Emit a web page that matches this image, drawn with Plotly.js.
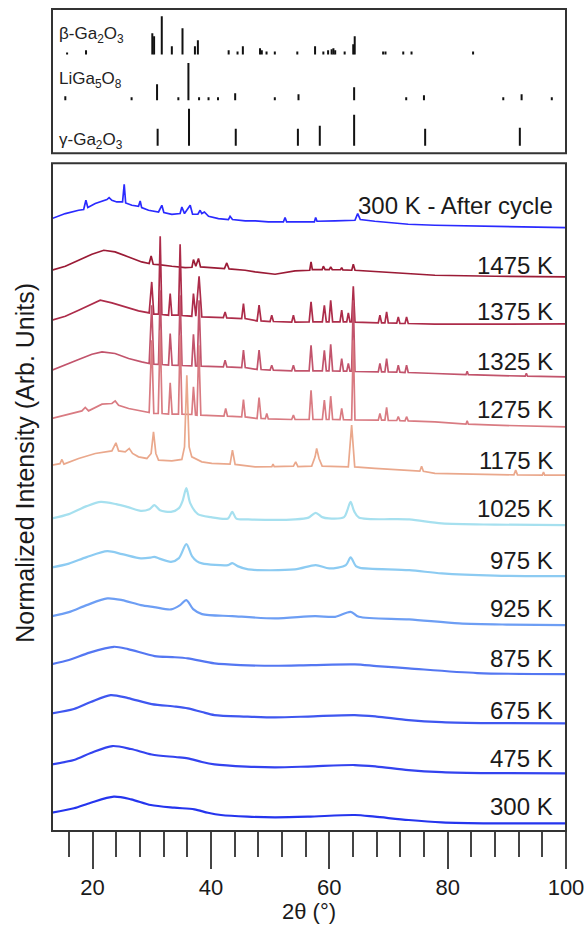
<!DOCTYPE html>
<html>
<head>
<meta charset="utf-8">
<script src="https://cdn.plot.ly/plotly-3.0.1.min.js"></script>
<style>html,body{margin:0;padding:0;background:#fff;}#chart{width:588px;height:938px;}</style>
</head>
<body>
<div id="chart"></div>
<script>
// ---------- DATA ----------
// Temperatures / pattern labels (top to bottom)
const labels = ["300 K - After cycle","1475 K","1375 K","1325 K","1275 K","1175 K","1025 K","975 K","925 K","875 K","675 K","475 K","300 K"];

// XRD patterns: [2theta, stacked intensity (arb.)]
const xrd_after = [[13.15,612.7],[15.4,617.7],[17.65,621],[18.5,621.7],[18.88,631],[19.2,623.7],[20.46,627.7],[21.6,630.3],[22.43,631.7],[22.8,633.7],[23.27,631],[24.1,629.3],[25.07,629.3],[25.35,647],[25.6,628.3],[26.65,626],[27.77,625],[28.05,630.3],[28.3,623.7],[29.46,621],[31.15,619.3],[31.71,626],[32.05,618.7],[33.4,617],[34.8,617.7],[35.09,624.3],[35.54,617.7],[36.5,626],[36.9,617],[37.8,617],[38.18,621],[38.46,617.7],[38.9,619.3],[39.6,615],[41.27,612.7],[42.96,611.7],[43.24,615],[43.64,611.7],[45.8,610.3],[47.5,610.3],[49.7,609.3],[52.25,609.3],[52.53,613.7],[52.8,609.3],[55.34,609.3],[57.48,609.3],[57.7,613.7],[57.93,610],[60.97,610.3],[62.65,611],[64.34,611],[64.8,617.7],[65.24,611.7],[67.7,610],[69.97,608.7],[73.34,607],[77.85,606],[88,605],[100,603.7]];
const xrd_1475 = [[13.15,561],[15.4,565],[17.65,571],[19.9,577],[21.9,581],[23.8,579.3],[26.1,574.3],[28.3,569.3],[29.57,567.7],[29.9,575.3],[30.25,567],[31.15,566.7],[33.4,565],[35.65,563.7],[36.8,564],[37.05,571.7],[37.45,565],[37.9,572.7],[38.24,564.3],[40.15,563.7],[42.29,562.7],[42.68,568.3],[43.07,562.3],[45.78,561],[47.47,559.3],[50.84,557],[54.22,560.3],[56.7,561],[56.92,569.3],[57.14,561.7],[58.8,561.7],[59.0,565],[59.3,561.7],[60.0,561.7],[60.24,564.3],[60.5,561.7],[61.9,561.5],[62.1,563.7],[62.3,561.3],[63.8,561],[64.06,567],[64.35,561],[69.4,559.3],[73.34,557.7],[77.85,556],[88,555],[100,554.3]];
const xrd_1375 = [[13.15,511],[15.4,515],[17.65,521],[19.9,527],[21.3,531],[23.27,528.3],[25.52,524.3],[27.77,520.3],[29.57,518.3],[30.0,549.3],[30.35,517],[31.15,517],[31.43,595],[31.71,516.7],[32.84,516],[33.12,537.7],[33.4,516],[34.52,516],[34.8,587],[35.09,515.7],[36.77,515],[37.05,537.7],[37.45,515],[38.0,555],[38.46,514.3],[42.1,513.7],[42.4,519.3],[42.68,513.3],[45.2,512.7],[45.5,527.7],[45.78,512.7],[47.8,510.3],[48.14,526],[48.48,510.3],[50.0,509.7],[50.28,516],[50.56,509.7],[53.65,509],[53.94,516],[54.22,509],[56.6,509.3],[56.92,529.3],[57.25,509.3],[58.83,509.3],[59.17,526],[59.5,509.3],[59.95,509.3],[60.24,531],[60.57,509.3],[61.81,509.3],[62.1,521],[62.37,509.3],[62.95,509.3],[63.22,518.3],[63.5,509.3],[63.78,509.3],[64.06,545],[64.34,509],[68.28,508.3],[68.56,516],[68.84,508.3],[69.4,508.3],[69.69,519.3],[69.97,508.3],[71.4,508],[71.66,514.3],[71.94,507.7],[72.8,507.7],[73.06,514.3],[73.34,507.7],[77.85,507],[88,507],[100,507.3]];
const xrd_1325 = [[13.15,461],[15.4,466],[17.65,471.7],[19.9,477],[21.6,479.3],[23.8,477.7],[26.1,472.7],[28.3,469.3],[29.57,467.7],[30.0,526],[30.35,467],[31.15,466.8],[31.43,541],[31.75,466.7],[32.84,466.2],[33.12,497.7],[33.45,466],[34.52,465.8],[34.8,536],[35.12,465.7],[36.77,465.3],[37.05,497],[37.4,465.3],[37.7,465.2],[38.0,531],[38.35,465],[42.1,464.3],[42.4,471],[42.7,464.3],[45.2,463.7],[45.5,481],[45.8,463.7],[47.8,461.7],[48.14,481],[48.48,461.7],[50.0,461],[50.28,466],[50.56,461],[53.65,460.3],[53.94,466],[54.22,460.3],[56.6,460.3],[56.92,486],[57.25,460.3],[58.83,460.3],[59.17,481],[59.5,460.3],[59.95,460.3],[60.24,487],[60.57,460.3],[61.81,460],[62.1,472.7],[62.4,460],[62.95,460],[63.22,467.7],[63.5,460],[63.78,460],[64.06,531],[64.34,459.7],[68.28,459.3],[68.56,467.7],[68.84,459.3],[69.4,459.3],[69.69,472.7],[69.97,459.3],[71.4,459],[71.66,466],[71.94,459],[72.8,458.7],[73.06,466],[73.34,458.7],[77.85,457.7],[83.1,456.5],[83.3,460],[83.5,456.5],[93.1,455],[93.3,458],[93.5,455],[100,454.3]];
const xrd_1275 = [[13.15,412.7],[15.4,416],[18.2,420.3],[18.77,423.7],[19.33,420.3],[21.6,427],[23.27,427.7],[23.83,430.3],[24.4,426],[26.1,422.7],[28.3,420.3],[29.57,418.7],[30.0,491],[30.35,417.8],[31.1,417.7],[31.43,501],[31.75,417.7],[32.84,417.2],[33.12,448.3],[33.45,417],[34.52,417],[34.8,496],[35.12,417],[36.77,416.7],[37.05,444.3],[37.4,416.2],[37.65,416],[37.95,486],[38.3,416],[42.2,415],[42.5,422.7],[42.8,415],[45.2,414.3],[45.5,431.7],[45.8,414.3],[47.8,412.7],[48.14,433.7],[48.48,412.7],[49.2,412.5],[49.44,417.7],[49.7,412.3],[53.65,411.7],[53.94,416],[54.22,411.7],[56.6,411.7],[56.92,441],[57.25,411.7],[58.83,411.7],[59.17,431],[59.5,411.7],[59.95,411.7],[60.24,435],[60.57,411.7],[61.81,411.5],[62.1,422.7],[62.4,411.5],[63.78,411.3],[64.06,491],[64.34,411.2],[68.28,411],[68.56,417.7],[68.84,411],[69.4,411],[69.69,423.7],[69.97,410.8],[71.4,410.7],[71.66,414.5],[71.94,410.5],[72.8,410.3],[73.06,414.5],[73.34,410.3],[77.85,409.3],[83.1,407],[83.3,410.5],[83.5,407],[88,406],[100,404.3]];
const xrd_1175 = [[13.15,366],[14.5,367.5],[14.83,371.7],[15.17,367],[17.65,372.7],[20.46,377.7],[23.27,380.3],[23.95,388.3],[24.4,380.3],[25.52,379.3],[26.2,382.7],[26.76,377.7],[27.77,374.3],[29.18,372.7],[29.9,377.7],[30.3,399.3],[30.7,377.7],[31.15,371],[33.4,370.3],[35.09,371.7],[35.54,384.3],[35.93,456],[36.32,384.3],[36.77,374.3],[38.46,369.3],[40.15,367.7],[43.24,367],[43.64,381],[44.09,366.7],[45.78,365.3],[47.47,364.3],[50.3,364.5],[50.5,367],[50.7,364.5],[53.94,365],[54.33,369.3],[54.7,364.5],[57.03,365],[57.6,374.3],[57.87,382.7],[58.27,372.7],[58.8,365],[61.53,364.5],[63.22,364.3],[63.78,406],[64.3,364.3],[67.72,362.7],[72.22,361],[75.3,360],[75.6,365],[75.9,359.8],[77.85,357.7],[88,356.5],[91.2,356.3],[91.5,361],[91.8,356.3],[96.0,356],[96.2,359],[96.4,356],[100,356]];
const xrd_1025 = [[13.15,312.7],[16,317],[19,325],[21.4,329.3],[24,327],[26,324],[28.16,320.3],[29.6,322],[30.45,326],[31.4,321],[33.26,319.3],[34.6,323],[35.2,330],[35.85,343],[36.5,328],[37.8,317],[40,314],[42.9,312.7],[43.6,319.3],[44.3,312.5],[46.3,311.7],[54.2,311.7],[56.5,313.5],[57.7,318.3],[58.8,314],[59.9,312.7],[62.5,314],[63.0,320],[63.6,329.3],[64.2,320],[65,313.7],[73.5,311.7],[79,307.7],[88,306.5],[100,306]];
const xrd_975 = [[13.15,263.7],[16,267.5],[19,274],[22.5,280],[25,277],[28.16,272.7],[29.8,273.5],[30.43,274.3],[31.3,272.5],[33.26,269.3],[34.6,273],[35.85,287],[36.8,275],[37.6,270],[38.5,267.7],[42.9,266],[43.6,268],[44.5,265],[46.3,261.7],[54.2,261.7],[57.7,266],[60,262.7],[62.8,266],[63.6,273.7],[64.5,265],[65.2,263.3],[73.5,261],[79,257.7],[88,255.5],[100,255]];
const xrd_925 = [[13.15,215],[16,219],[19,226],[22.5,232.7],[25,231],[28.16,226],[30.4,224],[33.26,221.7],[34.8,226],[35.85,231],[37,222],[38.5,217],[43.6,215],[50.8,212.7],[57.6,215],[61,214.3],[63.6,219.3],[65,214.3],[73.5,211.7],[81.96,207.7],[90,206.5],[100,206]];
const xrd_875 = [[13.15,167],[16,171],[19.5,178.5],[23.6,184.3],[26,182],[30.5,175],[33.5,174],[36.1,172.7],[40.6,167.7],[45,166],[50.8,165.3],[57,166],[64.3,166.7],[68,165],[73.4,162.7],[85,158],[100,157]];
const xrd_675 = [[13.15,117.7],[16.85,122],[19.7,129],[23.07,136],[26,133],[30,127],[34,124.5],[36.1,122.7],[38.5,119],[40.6,116],[46,114.5],[50.8,113.7],[56.4,114.5],[64.3,116],[68,114.5],[73.4,111],[79,109],[87,108],[100,107.7]];
const xrd_475 = [[13.15,66.7],[16.85,71],[19.7,78],[23.35,85],[26.5,82],[30,76.5],[34,74],[36.1,72.7],[38.5,69],[40.6,66.7],[46,64.5],[50.8,63.7],[56.4,64.5],[64.3,66],[68,64.5],[73.4,61],[79,59],[87,58],[100,57.7]];
const xrd_300 = [[13.15,18.3],[16.85,22.7],[19.7,28.3],[23.6,34.3],[26.5,31.7],[29.85,26],[33.8,23.3],[37.2,21.7],[39.5,18.3],[41.7,16],[46.2,14.3],[50.8,13.7],[56.4,14.3],[64.3,16],[67.7,14.3],[73.4,11],[79,8.7],[87.5,7.7],[100,7.7]];

// Reference stick patterns (2theta, relative intensity)
const beta_pos  = [15.7,18.9,30.1,30.4,31.7,33.4,35.2,37.3,37.8,43.0,44.5,45.4,48.3,48.6,49.4,50.8,54.6,57.6,59.0,59.8,60.4,60.7,61.0,62.6,64.05,64.3,69.1,69.5,72.5,73.9,84.3];
const beta_int  = [2,4,21,18,38,8,26,8,14,4,3,8,6,4,3,3,3,8,3,4,5,6,4,3,10,18,3,3,3,3,3];
const li_pos    = [15.4,26.6,30.9,34.5,36.2,38.0,39.6,41.2,44.1,50.8,54.8,64.2,73.0,76.0,89.4,92.5,97.6];
const li_int    = [4,3,16,3,37,3,3,3,7,3,6,13,3,5,3,6,3];
const gamma_pos = [31.0,36.3,44.2,54.7,58.4,64.2,76.2,92.2];
const gamma_int = [17,37,17,17,20,31,17,18];

const xTicks = [20,40,60,80,100];

// ---------- STYLE ----------
const patterns = [xrd_after,xrd_1475,xrd_1375,xrd_1325,xrd_1275,xrd_1175,xrd_1025,xrd_975,xrd_925,xrd_875,xrd_675,xrd_475,xrd_300];
const colors = ["#2a2aff","#9b1b36","#ad2c4a","#c2546c","#d97b82","#eaa88c","#a6e0ef","#8ccbf2","#6d9ef4","#5477f2","#3f57f0","#3343ef","#2535ee"];
const smooth = [false,false,false,false,false,false,true,true,true,true,true,true,true];
const labelY = [626,566,519.3,469.3,421.7,371,322.7,271,222.7,172.7,120.3,72.7,24.3];
const rowBase = [98.7,53,7.5];
const FONT = "Liberation Sans, Arial, Helvetica, sans-serif";

const traces = [];
patterns.forEach((p,i)=>{
  traces.push({
    type:"scatter", mode:"lines", xaxis:"x", yaxis:"y",
    x:p.map(d=>d[0]), y:p.map(d=>d[1]),
    line:{color:colors[i], width: smooth[i]?2.2:1.7, shape: smooth[i]?"spline":"linear", smoothing:0.8},
    hoverinfo:"skip", showlegend:false
  });
});

function sticks(pos, inten, base){
  const x=[], y=[];
  pos.forEach((p,i)=>{ x.push(p,p,null); y.push(base, base+inten[i], null); });
  return {type:"scatter", mode:"lines", xaxis:"x", yaxis:"y2", x, y,
    line:{color:"#111", width:2}, hoverinfo:"skip", showlegend:false};
}
traces.push(sticks(beta_pos,beta_int,rowBase[0]));
traces.push(sticks(li_pos,li_int,rowBase[1]));
traces.push(sticks(gamma_pos,gamma_int,rowBase[2]));

const annotations = labels.map((t,i)=>({
  text:t, x:98.1, y:labelY[i], xref:"x", yref:"y", xanchor:"right", yanchor:"middle",
  showarrow:false, font:{family:FONT, size:24, color:"#1a1a1a"}
}));
const phaseLabels = [["β-Ga<sub>2</sub>O<sub>3</sub>",118],["LiGa<sub>5</sub>O<sub>8</sub>",73],["γ-Ga<sub>2</sub>O<sub>3</sub>",12]];
phaseLabels.forEach(pl=>annotations.push({
  text:pl[0], x:14.0, y:pl[1], xref:"x", yref:"y2", xanchor:"left", yanchor:"middle",
  showarrow:false, font:{family:FONT, size:17, color:"#222"}
}));
annotations.push({text:"2θ (°)", x:0.5, y:-0.0985, xref:"paper", yref:"paper", xanchor:"center", yanchor:"middle",
  showarrow:false, font:{family:FONT, size:22, color:"#1a1a1a"}});
annotations.push({text:"Normalized Intensity (Arb. Units)", x:-0.0525, y:0.448, xref:"paper", yref:"paper",
  xanchor:"center", yanchor:"middle", textangle:-90, showarrow:false, font:{family:FONT, size:25, color:"#1a1a1a"}});

const layout = {
  width:588, height:938,
  margin:{l:52, r:22, t:9, b:107},
  paper_bgcolor:"#fff", plot_bgcolor:"#fff",
  showlegend:false,
  xaxis:{range:[13.15,100], tickmode:"array", tickvals:xTicks, ticktext:xTicks.map(String),
    ticks:"outside", ticklen:37, tickwidth:2, tickcolor:"#444",
    minor:{tickmode:"linear", tick0:0, dtick:4, ticks:"outside", ticklen:25, tickwidth:2, tickcolor:"#444", showgrid:false},
    showline:false, showgrid:false, zeroline:false, anchor:"y",
    tickfont:{family:FONT, size:22, color:"#1a1a1a"}},
  yaxis:{domain:[0,0.8123], range:[0,668], visible:false, fixedrange:true},
  yaxis2:{domain:[0.8245,1], range:[0,144], visible:false, anchor:"x"},
  shapes:[
    {type:"rect", xref:"paper", yref:"paper", x0:0, x1:1, y0:0, y1:0.8123, line:{color:"#333", width:2}},
    {type:"rect", xref:"paper", yref:"paper", x0:0, x1:1, y0:0.8245, y1:1, line:{color:"#333", width:2}}
  ],
  annotations
};

Plotly.newPlot("chart", traces, layout, {staticPlot:true, displayModeBar:false});
</script>
</body>
</html>
